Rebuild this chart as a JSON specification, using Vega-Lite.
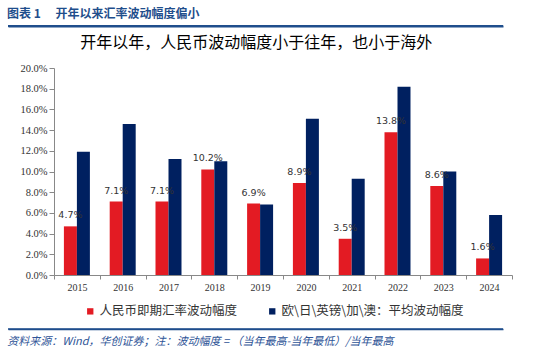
{
  "$schema": "https://vega.github.io/schema/vega-lite/v6.json",
  "padding": {"left": 7, "top": 8, "right": 0, "bottom": 0},
  "spacing": 8,
  "resolve": {"scale": {"color": "independent"}, "legend": {"color": "independent"}},
  "config": {"view": {"stroke": null}},
  "datasets": {
    "bars": [
      {"year": "2015", "series": "人民币即期汇率波动幅度", "value": 0.047},
      {"year": "2016", "series": "人民币即期汇率波动幅度", "value": 0.071},
      {"year": "2017", "series": "人民币即期汇率波动幅度", "value": 0.071},
      {"year": "2018", "series": "人民币即期汇率波动幅度", "value": 0.102},
      {"year": "2019", "series": "人民币即期汇率波动幅度", "value": 0.069},
      {"year": "2020", "series": "人民币即期汇率波动幅度", "value": 0.089},
      {"year": "2021", "series": "人民币即期汇率波动幅度", "value": 0.035},
      {"year": "2022", "series": "人民币即期汇率波动幅度", "value": 0.138},
      {"year": "2023", "series": "人民币即期汇率波动幅度", "value": 0.086},
      {"year": "2024", "series": "人民币即期汇率波动幅度", "value": 0.016},
      {"year": "2015", "series": "欧\\日\\英镑\\加\\澳：平均波动幅度", "value": 0.119},
      {"year": "2016", "series": "欧\\日\\英镑\\加\\澳：平均波动幅度", "value": 0.146},
      {"year": "2017", "series": "欧\\日\\英镑\\加\\澳：平均波动幅度", "value": 0.112},
      {"year": "2018", "series": "欧\\日\\英镑\\加\\澳：平均波动幅度", "value": 0.110},
      {"year": "2019", "series": "欧\\日\\英镑\\加\\澳：平均波动幅度", "value": 0.068},
      {"year": "2020", "series": "欧\\日\\英镑\\加\\澳：平均波动幅度", "value": 0.151},
      {"year": "2021", "series": "欧\\日\\英镑\\加\\澳：平均波动幅度", "value": 0.093},
      {"year": "2022", "series": "欧\\日\\英镑\\加\\澳：平均波动幅度", "value": 0.182},
      {"year": "2023", "series": "欧\\日\\英镑\\加\\澳：平均波动幅度", "value": 0.100},
      {"year": "2024", "series": "欧\\日\\英镑\\加\\澳：平均波动幅度", "value": 0.058}
    ]
  },
  "vconcat": [
    {
      "width": 449,
      "height": 1,
      "title": {"text": "图表 1 \u3000开年以来汇率波动幅度偏小", "anchor": "start", "frame": "bounds", "font": "Noto Sans CJK SC", "fontSize": 12, "fontWeight": "bold", "color": "#1F4E8C", "offset": 4},
      "data": {"values": [{"k": 1}]},
      "mark": {"type": "rule", "color": "#1F4E8C", "strokeWidth": 2},
      "encoding": {
        "x": {"datum": 0, "type": "quantitative", "scale": {"domain": [0, 1], "range": [-46, 449]},
          "axis": {"orient": "bottom", "title": null, "labels": false, "ticks": false, "grid": false, "domain": true, "domainColor": "#1F4E8C", "domainWidth": 2}},
        "x2": {"datum": 1},
        "y": {"datum": 0, "type": "quantitative", "scale": {"domain": [0, 1]}, "axis": null}
      }
    },
    {
      "width": 458,
      "height": 207,
      "title": {"text": "开年以年，人民币波动幅度小于往年，也小于海外", "anchor": "middle", "frame": "bounds", "dx": -4, "font": "Noto Sans CJK SC", "fontSize": 16, "fontWeight": "normal", "color": "#000000", "offset": 12},
      "data": {"name": "bars"},
      "encoding": {
        "x": {"field": "year", "type": "ordinal", "scale": {"paddingInner": 0, "paddingOuter": 0},
          "axis": {"title": null, "tickBand": "extent", "labelAngle": 0, "labelFont": "Liberation Serif", "labelFontSize": 10, "labelColor": "#333333", "tickSize": 4, "tickColor": "#888888", "domainColor": "#888888", "labelPadding": 3}},
        "xOffset": {"field": "series", "type": "nominal", "scale": {"domain": ["人民币即期汇率波动幅度", "欧\\日\\英镑\\加\\澳：平均波动幅度"], "paddingInner": 0, "paddingOuter": 0.762}},
        "y": {"field": "value", "type": "quantitative", "scale": {"domain": [0, 0.2]},
          "axis": {"title": null, "values": [0, 0.02, 0.04, 0.06, 0.08, 0.1, 0.12, 0.14, 0.16, 0.18, 0.2], "format": ".1%", "grid": false, "labelFont": "Liberation Serif", "labelFontSize": 10.5, "labelColor": "#333333", "tickSize": 5, "tickColor": "#888888", "domainColor": "#888888", "labelPadding": 2, "minExtent": 46}}
      },
      "layer": [
        {
          "mark": {"type": "bar"},
          "encoding": {
            "color": {"field": "series", "type": "nominal",
              "scale": {"domain": ["人民币即期汇率波动幅度", "欧\\日\\英镑\\加\\澳：平均波动幅度"], "range": ["#E31B23", "#002060"]},
              "legend": {"orient": "none", "legendX": 30, "legendY": 237, "direction": "horizontal", "title": null, "symbolType": "square", "symbolSize": 40, "symbolStrokeWidth": 0, "labelFont": "Noto Sans CJK SC", "labelFontSize": 12.5, "labelColor": "#333333", "labelLimit": 400, "columnPadding": 28, "labelOffset": 3}}
          }
        },
        {
          "transform": [{"filter": "datum.series === '人民币即期汇率波动幅度'"}],
          "mark": {"type": "text", "baseline": "bottom", "dy": -6, "font": "DejaVu Sans", "fontSize": 9.5, "color": "#333333"},
          "encoding": {"text": {"field": "value", "type": "quantitative", "format": ".1%"}}
        }
      ]
    },
    {
      "width": 449,
      "height": 3,
      "data": {"values": [{"k": 1}]},
      "title": {"text": "资料来源：Wind，华创证券；注：波动幅度 = （当年最高-当年最低）/当年最高", "orient": "bottom", "anchor": "start", "frame": "bounds", "font": "Noto Sans CJK SC", "fontSize": 11, "fontStyle": "italic", "fontWeight": "normal", "color": "#2F5597", "offset": 6},
      "mark": {"type": "rule", "color": "#1F4E8C", "strokeWidth": 1.5},
      "encoding": {
        "x": {"datum": 0, "type": "quantitative", "scale": {"domain": [0, 1], "range": [-46, 449]},
          "axis": {"orient": "bottom", "title": null, "labels": false, "ticks": false, "grid": false, "domain": true, "domainColor": "#1F4E8C", "domainWidth": 1.5}},
        "x2": {"datum": 1},
        "y": {"datum": 0, "type": "quantitative", "scale": {"domain": [0, 1]}, "axis": null}
      }
    }
  ]
}
